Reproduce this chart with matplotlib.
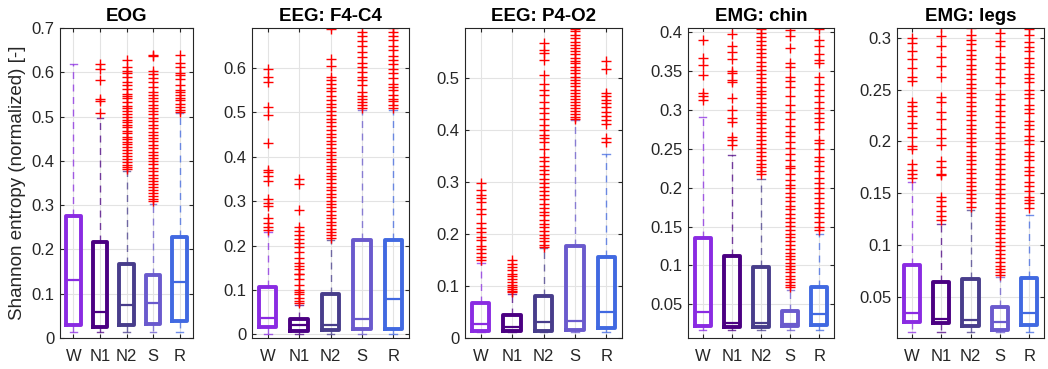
import numpy as np
import matplotlib
matplotlib.use('Agg')
import matplotlib.pyplot as plt
from matplotlib.ticker import FuncFormatter

plt.rcParams['font.family'] = ['Liberation Sans', 'DejaVu Sans']

# Stage labels and colours
stages = ['W', 'N1', 'N2', 'S', 'R']
stage_colors = ['#8a2be2', '#4b0082', '#483d8b', '#6a5acd', '#4169e1']

titles = ['EOG', 'EEG: F4-C4', 'EEG: P4-O2', 'EMG: chin', 'EMG: legs']

# Box summary values per panel (W, N1, N2, S, R)
eog_q1 = [0.030, 0.024, 0.030, 0.032, 0.038]
eog_med = [0.130, 0.058, 0.075, 0.080, 0.126]
eog_q3 = [0.275, 0.217, 0.168, 0.142, 0.228]
eog_lo = [0.014, 0.014, 0.014, 0.014, 0.014]
eog_hi = [0.619, 0.497, 0.376, 0.303, 0.508]

f4_q1 = [0.017, 0.008, 0.011, 0.013, 0.013]
f4_med = [0.036, 0.022, 0.022, 0.034, 0.080]
f4_q3 = [0.106, 0.034, 0.092, 0.212, 0.212]
f4_lo = [0.002, 0.002, 0.002, 0.002, 0.002]
f4_hi = [0.231, 0.066, 0.212, 0.505, 0.505]

p4_q1 = [0.014, 0.013, 0.014, 0.016, 0.019]
p4_med = [0.026, 0.022, 0.030, 0.032, 0.050]
p4_q3 = [0.067, 0.045, 0.081, 0.178, 0.156]
p4_lo = [0.011, 0.011, 0.011, 0.011, 0.011]
p4_hi = [0.144, 0.085, 0.173, 0.419, 0.354]

chin_q1 = [0.0226, 0.021, 0.021, 0.022, 0.023]
chin_med = [0.040, 0.0256, 0.026, 0.025, 0.038]
chin_q3 = [0.135, 0.112, 0.098, 0.041, 0.072]
chin_lo = [0.017, 0.017, 0.017, 0.017, 0.017]
chin_hi = [0.291, 0.242, 0.211, 0.068, 0.141]

legs_q1 = [0.026, 0.025, 0.022, 0.018, 0.023]
legs_med = [0.034, 0.028, 0.0275, 0.026, 0.034]
legs_q3 = [0.081, 0.0645, 0.067, 0.040, 0.068]
legs_lo = [0.016, 0.016, 0.016, 0.016, 0.016]
legs_hi = [0.161, 0.120, 0.134, 0.069, 0.129]

# Outliers per panel (W, N1, N2, S, R)
eog_out = [
    [],
    [0.619, 0.607, 0.583, 0.540, 0.536, 0.508],
    [0.628, 0.611, 0.604, 0.598, 0.589, 0.577, 0.571, 0.563, 0.552, 0.547, 0.541, 0.533,
     0.524, 0.519, 0.512, 0.506, 0.498, 0.493, 0.487, 0.481, 0.476, 0.468, 0.462, 0.455,
     0.449, 0.443, 0.437, 0.431, 0.424, 0.418, 0.412, 0.405, 0.398, 0.391, 0.386, 0.381],
    [0.640, 0.636, 0.603, 0.596, 0.588, 0.578, 0.566, 0.555, 0.548, 0.541, 0.535, 0.527,
     0.519, 0.513, 0.505, 0.497, 0.489, 0.482, 0.474, 0.466, 0.458, 0.451, 0.444, 0.436,
     0.428, 0.421, 0.414, 0.406, 0.399, 0.392, 0.384, 0.377, 0.369, 0.362, 0.355, 0.348,
     0.341, 0.334, 0.327, 0.321, 0.315, 0.309],
    [0.640, 0.622, 0.611, 0.598, 0.593, 0.585, 0.572, 0.561, 0.556, 0.548, 0.543, 0.537,
     0.529, 0.521, 0.515, 0.511],
]
f4_out = [
    [0.598, 0.580, 0.568, 0.512, 0.493, 0.432, 0.370, 0.365, 0.356, 0.345, 0.304, 0.296,
     0.290, 0.262, 0.250, 0.242, 0.236],
    [0.350, 0.339, 0.280, 0.243, 0.232, 0.225, 0.216, 0.207, 0.197, 0.186, 0.172, 0.160,
     0.155, 0.148, 0.137, 0.135, 0.124, 0.112, 0.101, 0.095, 0.090, 0.082, 0.075, 0.070],
    [0.688, 0.620, 0.604, 0.580, 0.572, 0.565, 0.556, 0.548, 0.537, 0.528, 0.519, 0.511,
     0.502, 0.494, 0.486, 0.478, 0.469, 0.461, 0.452, 0.445, 0.436, 0.428, 0.419, 0.411,
     0.403, 0.396, 0.388, 0.380, 0.372, 0.364, 0.357, 0.349, 0.341, 0.333, 0.325, 0.317,
     0.309, 0.301, 0.294, 0.286, 0.278, 0.270, 0.262, 0.254, 0.246, 0.238, 0.231, 0.224,
     0.217],
    [0.680, 0.672, 0.661, 0.649, 0.636, 0.625, 0.611, 0.603, 0.592, 0.580, 0.573, 0.561,
     0.546, 0.538, 0.531, 0.524, 0.516, 0.510],
    [0.690, 0.682, 0.673, 0.664, 0.650, 0.640, 0.627, 0.617, 0.609, 0.597, 0.588, 0.578,
     0.565, 0.557, 0.550, 0.540, 0.531, 0.525, 0.517, 0.510],
]
p4_out = [
    [0.298, 0.285, 0.276, 0.270, 0.262, 0.248, 0.238, 0.222, 0.212, 0.205, 0.194, 0.188,
     0.178, 0.171, 0.163, 0.156, 0.150],
    [0.150, 0.143, 0.136, 0.130, 0.124, 0.119, 0.113, 0.108, 0.103, 0.099, 0.094, 0.090,
     0.088],
    [0.568, 0.555, 0.548, 0.535, 0.507, 0.490, 0.478, 0.468, 0.455, 0.443, 0.433, 0.421,
     0.411, 0.400, 0.391, 0.385, 0.378, 0.364, 0.348, 0.340, 0.332, 0.323, 0.315, 0.306,
     0.298, 0.290, 0.283, 0.275, 0.267, 0.259, 0.251, 0.243, 0.236, 0.228, 0.220, 0.213,
     0.206, 0.199, 0.192, 0.186, 0.180, 0.175],
    [0.596, 0.591, 0.584, 0.578, 0.571, 0.565, 0.558, 0.553, 0.547, 0.540, 0.534, 0.529,
     0.522, 0.516, 0.510, 0.503, 0.497, 0.491, 0.485, 0.478, 0.472, 0.466, 0.460, 0.454,
     0.448, 0.443, 0.437, 0.431, 0.426, 0.421],
    [0.533, 0.518, 0.472, 0.466, 0.458, 0.452, 0.444, 0.435, 0.428, 0.420, 0.412, 0.386,
     0.378],
]
chin_out = [
    [0.390, 0.367, 0.358, 0.345, 0.322, 0.318, 0.313],
    [0.398, 0.382, 0.375, 0.365, 0.350, 0.348, 0.338, 0.336, 0.315, 0.300, 0.290, 0.285,
     0.265, 0.262, 0.255],
    [0.404, 0.399, 0.394, 0.389, 0.384, 0.379, 0.373, 0.368, 0.362, 0.357, 0.351, 0.346,
     0.341, 0.336, 0.330, 0.325, 0.320, 0.315, 0.309, 0.304, 0.298, 0.293, 0.288, 0.283,
     0.277, 0.272, 0.267, 0.262, 0.256, 0.251, 0.246, 0.241, 0.236, 0.231, 0.226, 0.221,
     0.217],
    [0.403, 0.395, 0.380, 0.360, 0.355, 0.343, 0.337, 0.330, 0.318, 0.306, 0.297, 0.288,
     0.280, 0.272, 0.266, 0.259, 0.251, 0.244, 0.236, 0.228, 0.225, 0.218, 0.210, 0.204,
     0.199, 0.193, 0.188, 0.183, 0.177, 0.172, 0.166, 0.161, 0.156, 0.151, 0.146, 0.141,
     0.136, 0.131, 0.126, 0.121, 0.116, 0.112, 0.108, 0.103, 0.099, 0.095, 0.091, 0.087,
     0.083, 0.079, 0.075, 0.072],
    [0.404, 0.390, 0.382, 0.372, 0.364, 0.360, 0.342, 0.333, 0.326, 0.318, 0.310, 0.303,
     0.296, 0.290, 0.284, 0.275, 0.262, 0.258, 0.250, 0.240, 0.235, 0.228, 0.221, 0.212,
     0.206, 0.199, 0.193, 0.187, 0.180, 0.174, 0.168, 0.162, 0.156, 0.150, 0.146],
]
legs_out = [
    [0.300, 0.295, 0.287, 0.279, 0.271, 0.262, 0.258, 0.238, 0.234, 0.229, 0.224, 0.218,
     0.213, 0.204, 0.195, 0.193, 0.178, 0.172, 0.168, 0.165],
    [0.310, 0.302, 0.292, 0.281, 0.273, 0.262, 0.243, 0.238, 0.228, 0.222, 0.212, 0.203,
     0.196, 0.181, 0.175, 0.168, 0.167, 0.146, 0.142, 0.138, 0.133, 0.128, 0.124],
    [0.309, 0.303, 0.298, 0.294, 0.288, 0.283, 0.279, 0.274, 0.270, 0.265, 0.260, 0.255,
     0.251, 0.247, 0.243, 0.238, 0.234, 0.229, 0.225, 0.221, 0.216, 0.212, 0.208, 0.203,
     0.199, 0.195, 0.190, 0.186, 0.182, 0.178, 0.173, 0.169, 0.165, 0.161, 0.157, 0.153,
     0.149, 0.145, 0.141, 0.137],
    [0.310, 0.305, 0.297, 0.292, 0.281, 0.276, 0.270, 0.262, 0.256, 0.246, 0.241, 0.235,
     0.229, 0.224, 0.219, 0.214, 0.208, 0.203, 0.198, 0.193, 0.188, 0.183, 0.178, 0.173,
     0.168, 0.164, 0.159, 0.154, 0.149, 0.145, 0.140, 0.136, 0.131, 0.127, 0.123, 0.119,
     0.115, 0.111, 0.107, 0.103, 0.099, 0.095, 0.091, 0.087, 0.083, 0.080, 0.077, 0.074,
     0.071],
    [0.308, 0.303, 0.296, 0.291, 0.287, 0.280, 0.276, 0.272, 0.265, 0.261, 0.257, 0.250,
     0.246, 0.242, 0.235, 0.231, 0.227, 0.220, 0.216, 0.212, 0.205, 0.201, 0.197, 0.190,
     0.186, 0.182, 0.175, 0.171, 0.167, 0.161, 0.157, 0.152, 0.146, 0.143, 0.140, 0.136],
]

panels = [
    (eog_q1, eog_med, eog_q3, eog_lo, eog_hi, eog_out),
    (f4_q1, f4_med, f4_q3, f4_lo, f4_hi, f4_out),
    (p4_q1, p4_med, p4_q3, p4_lo, p4_hi, p4_out),
    (chin_q1, chin_med, chin_q3, chin_lo, chin_hi, chin_out),
    (legs_q1, legs_med, legs_q3, legs_lo, legs_hi, legs_out),
]

# Axis limits and ticks per panel
ylims = [(0, 0.7), (-0.008, 0.69), (0, 0.597), (0.0066, 0.4055), (0.0101, 0.3094)]
yticks = [np.arange(0, 0.71, 0.1), np.arange(0, 0.61, 0.1), np.arange(0, 0.51, 0.1),
          np.arange(0.05, 0.41, 0.05), np.arange(0.05, 0.31, 0.05)]

# Axes positions in pixels (left, right)
px_lr = [(60, 193), (252, 409), (465, 622), (688, 834), (897, 1044)]
W_PX, H_PX = 1048, 369

fig = plt.figure(figsize=(W_PX / 100, H_PX / 100), dpi=100)
edge = '#262626'

for i, (q1, med, q3, lo, hi, out) in enumerate(panels):
    l, r = px_lr[i]
    ax = fig.add_axes([l / W_PX, (H_PX - 338) / H_PX, (r - l) / W_PX, 310 / H_PX])
    stats = []
    for k in range(5):
        stats.append({'q1': q1[k], 'med': med[k], 'q3': q3[k],
                      'whislo': lo[k], 'whishi': hi[k], 'fliers': out[k]})
    art = ax.bxp(stats, positions=range(1, 6), widths=0.55, capwidths=0.25,
                 boxprops=dict(linewidth=2.8),
                 medianprops=dict(linewidth=1.6),
                 whiskerprops=dict(linewidth=1.0, linestyle=(0, (5, 4))),
                 capprops=dict(linewidth=1.0),
                 flierprops=dict(marker='+', markeredgecolor='red', markersize=6.5,
                                 markeredgewidth=1.0, linestyle='none'))
    for k, c in enumerate(stage_colors):
        art['boxes'][k].set_color(c)
        art['medians'][k].set_color(c)
        for j in (2 * k, 2 * k + 1):
            art['whiskers'][j].set_color(c)
            art['whiskers'][j].set_alpha(0.75)
            art['caps'][j].set_color(c)
            art['caps'][j].set_alpha(0.75)

    ax.set_xlim(0.5, 5.5)
    ax.set_ylim(*ylims[i])
    ax.set_yticks(yticks[i])
    ax.yaxis.set_major_formatter(FuncFormatter(lambda v, p: '%g' % round(v, 3)))
    ax.set_xticks(range(1, 6))
    ax.set_xticklabels(stages)
    ax.grid(True, color='#e3e3e3', linewidth=0.8)
    ax.set_axisbelow(True)
    ax.tick_params(direction='in', top=True, right=True, length=3, width=0.8,
                   labelsize=12, colors=edge)
    ax.tick_params(axis='y', pad=4)
    ax.tick_params(axis='x', pad=8)
    for s in ax.spines.values():
        s.set_color(edge)
        s.set_linewidth(0.8)
    ax.set_title(titles[i], fontsize=13.5, fontweight='bold', pad=5)
    if i == 0:
        ax.set_ylabel('Shannon entropy (normalized) [-]', fontsize=13.5, color=edge,
                      labelpad=4)

fig.savefig('out.png', dpi=100)
